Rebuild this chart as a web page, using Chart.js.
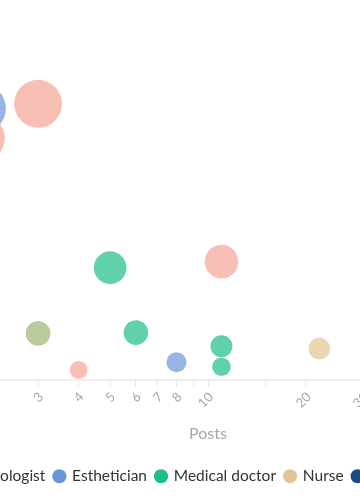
<!DOCTYPE html>
<html>
<head>
<meta charset="utf-8">
<script src="https://cdn.jsdelivr.net/npm/chart.js@4.4.1/dist/chart.umd.min.js"></script>
<style>
  html, body { margin: 0; padding: 0; background: #ffffff; overflow: hidden; }
  #viewport { position: relative; width: 360px; height: 500px; overflow: hidden; }
  #wrap { position: absolute; left: -200px; top: 0; width: 780px; height: 500px; }
</style>
</head>
<body>
<div id="viewport"><div id="wrap"><canvas id="c"></canvas></div></div>
<script>
// ---- data ----
const categories = ['Dermatologist', 'Esthetician', 'Medical doctor', 'Nurse', 'Plastic surgeon'];
const solidColors = ['#f5a595', '#6a96d8', '#1dbd8a', '#e1c692', '#1f4b85'];
const bubbleColors = ['rgba(245,165,149,0.7)', 'rgba(106,150,216,0.7)', 'rgba(29,189,138,0.7)', 'rgba(225,198,146,0.7)', 'rgba(31,75,133,0.7)'];

const dermatologistPosts = [3, 2, 11, 4];
const dermatologistValues = [77.8, 68.1, 33.4, 2.9];
const dermatologistSizes = [24, 24, 16.8, 9];

const estheticianPosts = [2, 8];
const estheticianValues = [76.5, 5.1];
const estheticianSizes = [25, 10];

const doctorPosts = [5, 3, 6, 11, 11];
const doctorValues = [31.7, 13.2, 13.4, 9.6, 3.8];
const doctorSizes = [16.3, 12.2, 12.3, 11, 9.3];

const nursePosts = [3, 22];
const nurseValues = [13.2, 8.9];
const nurseSizes = [12.2, 10.8];

const surgeonPosts = [];
const surgeonValues = [];
const surgeonSizes = [];

const labeledTicks = [1, 2, 3, 4, 5, 6, 7, 8, 10, 20, 30, 40, 50, 60, 70, 80, 100];

// ---- build ----
function pts(xs, ys, rs) { return xs.map((x, i) => ({ x: x, y: ys[i], r: rs[i] })); }
const series = [
  pts(dermatologistPosts, dermatologistValues, dermatologistSizes),
  pts(estheticianPosts, estheticianValues, estheticianSizes),
  pts(doctorPosts, doctorValues, doctorSizes),
  pts(nursePosts, nurseValues, nurseSizes),
  pts(surgeonPosts, surgeonValues, surgeonSizes)
];

const FONT = 'Lato, "Open Sans", sans-serif';

new Chart(document.getElementById('c'), {
  type: 'bubble',
  data: {
    datasets: categories.map((name, i) => ({
      label: name,
      data: series[i],
      order: categories.length - i,
      backgroundColor: bubbleColors[i],
      hoverBackgroundColor: bubbleColors[i],
      borderWidth: 0,
      hoverBorderWidth: 0
    }))
  },
  options: {
    responsive: true,
    maintainAspectRatio: false,
    animation: false,
    layout: { padding: { left: 71, right: 47, top: -5, bottom: 6 } },
    scales: {
      x: {
        type: 'logarithmic',
        min: 1,
        max: 100,
        border: { display: true, color: '#eeeeee', width: 2 },
        grid: { display: true, drawOnChartArea: false, drawTicks: true, tickLength: 6, color: '#e4e4e4' },
        ticks: {
          autoSkip: false,
          minRotation: 45,
          maxRotation: 45,
          labelOffset: 3,
          color: '#a8a8a8',
          font: { family: FONT, size: 13 },
          callback: (v) => labeledTicks.includes(Number(v)) ? String(v) : ''
        },
        title: { display: true, text: 'Posts', color: '#a8a8a8', font: { family: FONT, size: 16 }, padding: { top: 5, bottom: 16 } }
      },
      y: {
        display: true,
        min: 0,
        max: 100,
        border: { display: false },
        grid: { display: false },
        ticks: { display: false },
        afterFit: (s) => { s.width = 12; }
      }
    },
    plugins: {
      tooltip: { enabled: false },
      legend: {
        position: 'bottom',
        labels: {
          usePointStyle: true,
          pointStyle: 'circle',
          boxWidth: 10,
          boxHeight: 10,
          padding: 9,
          color: '#333333',
          font: { family: FONT, size: 15.5 },
          generateLabels: (chart) => categories.map((name, i) => ({
            text: name,
            fillStyle: solidColors[i],
            strokeStyle: solidColors[i],
            lineWidth: 0,
            pointStyle: 'circle',
            datasetIndex: i,
            hidden: false,
            fontColor: '#333333'
          }))
        }
      }
    }
  }
});
</script>
</body>
</html>
